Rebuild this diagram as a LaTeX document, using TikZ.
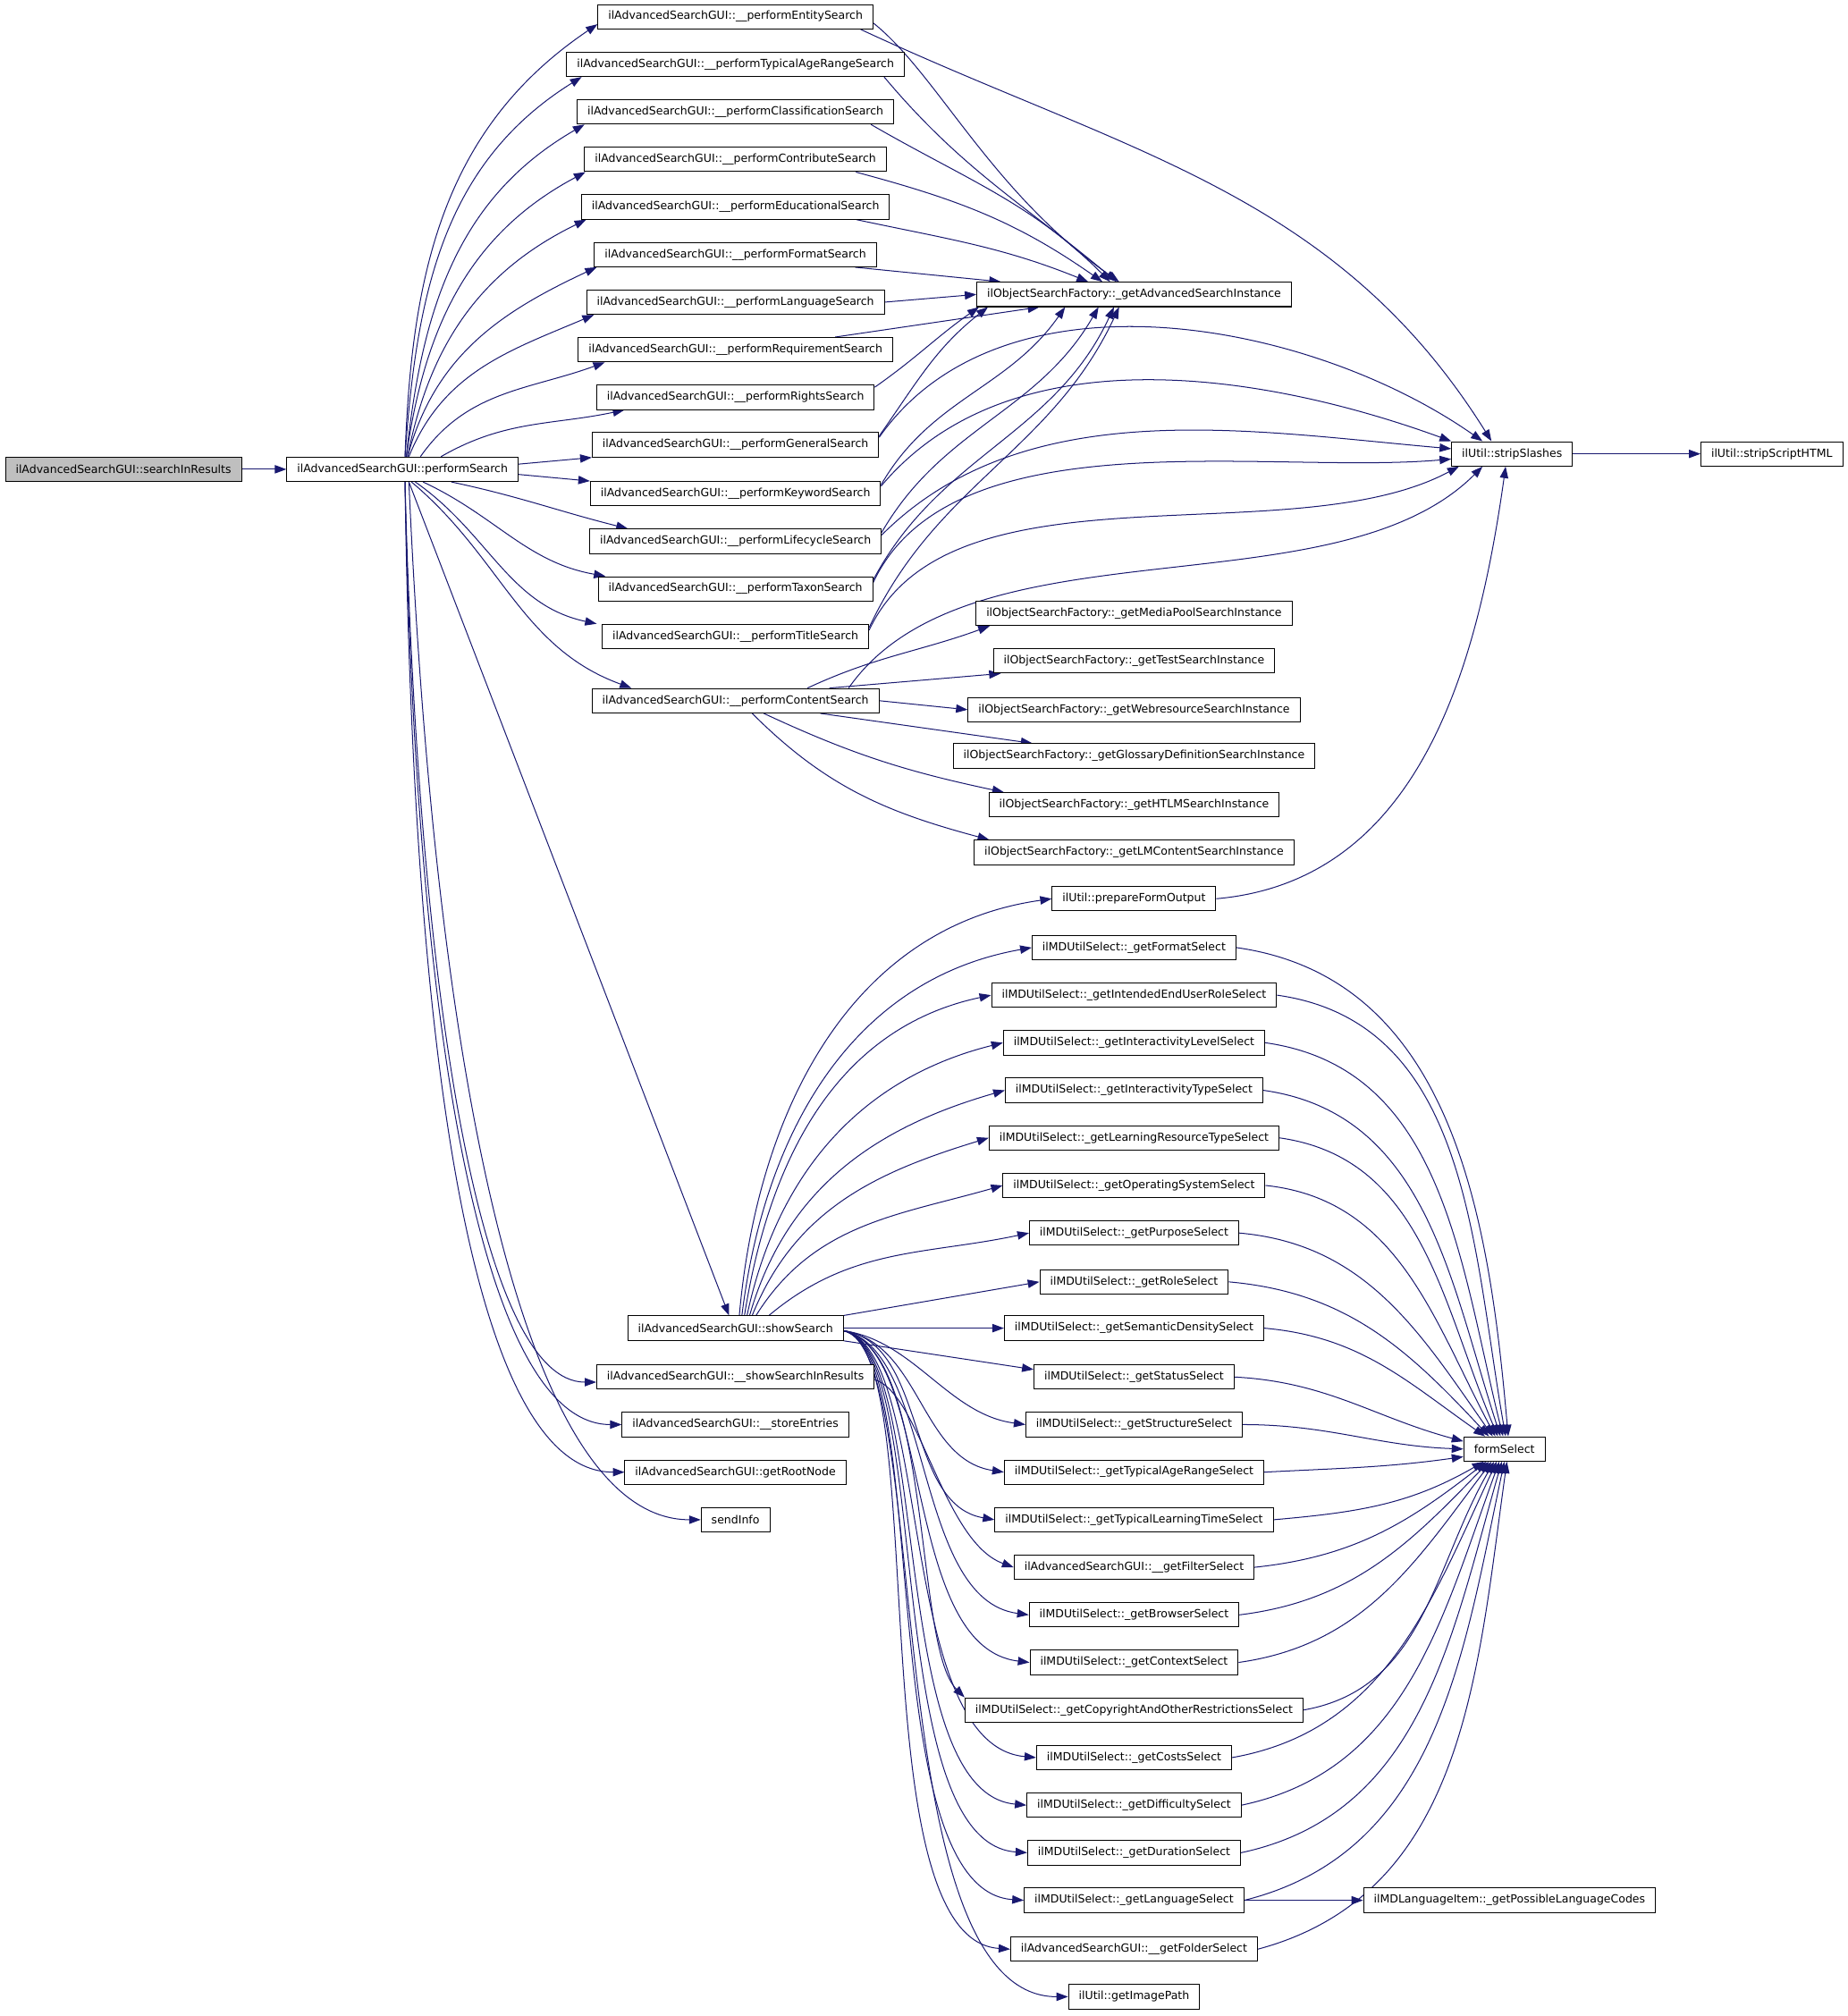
\documentclass[tikz,border=0pt]{standalone}
\usepackage{fontspec}
\setmainfont{DejaVu Sans}
\usetikzlibrary{arrows.meta,backgrounds}
\definecolor{edgeblue}{HTML}{191970}
\definecolor{rootgray}{HTML}{BFBFBF}

\begin{document}
\begin{tikzpicture}[
  x=1pt, y=1pt,
  font=\fontsize{8.7}{10}\selectfont,
  fn/.style={draw=black, line width=0.7pt, fill=white, inner xsep=8pt,
             inner ysep=0pt, minimum height=19pt},
  root/.style={fn, fill=rootgray},
  call/.style={draw=edgeblue, line width=0.7pt,
               -{Triangle[length=9pt,width=6.5pt]}},
]
\useasboundingbox (0,0) rectangle (1437,-1568);

% caller and entry point
\node[root] (sir) at (96,-365) {ilAdvancedSearchGUI::searchInResults};
\node[fn] (ps) at (313,-365) {ilAdvancedSearchGUI::performSearch};

% search helpers (middle column)
\node[fn] (pEnt) at (572,-13) {ilAdvancedSearchGUI::\_\_performEntitySearch};
\node[fn] (pAge) at (572,-50) {ilAdvancedSearchGUI::\_\_performTypicalAgeRangeSearch};
\node[fn] (pCls) at (572,-87) {ilAdvancedSearchGUI::\_\_performClassificationSearch};
\node[fn] (pCon) at (572,-124) {ilAdvancedSearchGUI::\_\_performContributeSearch};
\node[fn] (pEdu) at (572,-161) {ilAdvancedSearchGUI::\_\_performEducationalSearch};
\node[fn] (pFmt) at (572,-198) {ilAdvancedSearchGUI::\_\_performFormatSearch};
\node[fn] (pLng) at (572,-235) {ilAdvancedSearchGUI::\_\_performLanguageSearch};
\node[fn] (pReq) at (572,-272) {ilAdvancedSearchGUI::\_\_performRequirementSearch};
\node[fn] (pRgt) at (572,-309) {ilAdvancedSearchGUI::\_\_performRightsSearch};
\node[fn] (pGen) at (572,-346) {ilAdvancedSearchGUI::\_\_performGeneralSearch};
\node[fn] (pKey) at (572,-384) {ilAdvancedSearchGUI::\_\_performKeywordSearch};
\node[fn] (pLif) at (572,-421) {ilAdvancedSearchGUI::\_\_performLifecycleSearch};
\node[fn] (pTax) at (572,-458) {ilAdvancedSearchGUI::\_\_performTaxonSearch};
\node[fn] (pTit) at (572,-495) {ilAdvancedSearchGUI::\_\_performTitleSearch};
\node[fn] (pCnt) at (572,-545) {ilAdvancedSearchGUI::\_\_performContentSearch};
\node[fn] (shS) at (572,-1033) {ilAdvancedSearchGUI::showSearch};
\node[fn] (shR) at (572,-1071) {ilAdvancedSearchGUI::\_\_showSearchInResults};
\node[fn] (stE) at (572,-1108) {ilAdvancedSearchGUI::\_\_storeEntries};
\node[fn] (gRN) at (572,-1145) {ilAdvancedSearchGUI::getRootNode};
\node[fn] (snd) at (572,-1182) {sendInfo};

% factories and utilities (right column)
\node[fn] (fAdv) at (882,-229) {ilObjectSearchFactory::\_getAdvancedSearchInstance};
\node[fn] (uSS) at (1176,-353) {ilUtil::stripSlashes};
\node[fn] (uSH) at (1378,-353) {ilUtil::stripScriptHTML};
\node[fn] (fMP) at (882,-477) {ilObjectSearchFactory::\_getMediaPoolSearchInstance};
\node[fn] (fTst) at (882,-514) {ilObjectSearchFactory::\_getTestSearchInstance};
\node[fn] (fWeb) at (882,-552) {ilObjectSearchFactory::\_getWebresourceSearchInstance};
\node[fn] (fGls) at (882,-588) {ilObjectSearchFactory::\_getGlossaryDefinitionSearchInstance};
\node[fn] (fHtl) at (882,-626) {ilObjectSearchFactory::\_getHTLMSearchInstance};
\node[fn] (fLMC) at (882,-663) {ilObjectSearchFactory::\_getLMContentSearchInstance};
\node[fn] (uPFO) at (882,-699) {ilUtil::prepareFormOutput};

% select builders
\node[fn] (sFmt) at (882,-737) {ilMDUtilSelect::\_getFormatSelect};
\node[fn] (sIEU) at (882,-774) {ilMDUtilSelect::\_getIntendedEndUserRoleSelect};
\node[fn] (sIL) at (882,-811) {ilMDUtilSelect::\_getInteractivityLevelSelect};
\node[fn] (sIT) at (882,-848) {ilMDUtilSelect::\_getInteractivityTypeSelect};
\node[fn] (sLRT) at (882,-885) {ilMDUtilSelect::\_getLearningResourceTypeSelect};
\node[fn] (sOS) at (882,-922) {ilMDUtilSelect::\_getOperatingSystemSelect};
\node[fn] (sPur) at (882,-959) {ilMDUtilSelect::\_getPurposeSelect};
\node[fn] (sRol) at (882,-997) {ilMDUtilSelect::\_getRoleSelect};
\node[fn] (sSem) at (882,-1033) {ilMDUtilSelect::\_getSemanticDensitySelect};
\node[fn] (sSta) at (882,-1071) {ilMDUtilSelect::\_getStatusSelect};
\node[fn] (sStr) at (882,-1108) {ilMDUtilSelect::\_getStructureSelect};
\node[fn] (sTAR) at (882,-1145) {ilMDUtilSelect::\_getTypicalAgeRangeSelect};
\node[fn] (sTLT) at (882,-1182) {ilMDUtilSelect::\_getTypicalLearningTimeSelect};
\node[fn] (gFil) at (882,-1219) {ilAdvancedSearchGUI::\_\_getFilterSelect};
\node[fn] (sBro) at (882,-1256) {ilMDUtilSelect::\_getBrowserSelect};
\node[fn] (sCtx) at (882,-1293) {ilMDUtilSelect::\_getContextSelect};
\node[fn] (sCpy) at (882,-1330) {ilMDUtilSelect::\_getCopyrightAndOtherRestrictionsSelect};
\node[fn] (sCst) at (882,-1367) {ilMDUtilSelect::\_getCostsSelect};
\node[fn] (sDif) at (882,-1404) {ilMDUtilSelect::\_getDifficultySelect};
\node[fn] (sDur) at (882,-1441) {ilMDUtilSelect::\_getDurationSelect};
\node[fn] (sLng) at (882,-1478) {ilMDUtilSelect::\_getLanguageSelect};
\node[fn] (gFld) at (882,-1516) {ilAdvancedSearchGUI::\_\_getFolderSelect};
\node[fn] (uIMG) at (882,-1553) {ilUtil::getImagePath};
\node[fn] (fSel) at (1170,-1127) {formSelect};
\node[fn] (lPLC) at (1174,-1478) {ilMDLanguageItem::\_getPossibleLanguageCodes};

\begin{scope}[on background layer]
% entry
\draw[call] (sir) -- (ps);

% performSearch -> helpers
\draw[call] ([xshift=2pt]ps.north) to[out=88,in=214] ([yshift=4pt]pEnt.south west);
\draw[call] ([xshift=2pt]ps.north) to[out=86,in=212] ([xshift=12pt]pAge.south west);
\draw[call] ([xshift=3pt]ps.north) to[out=84,in=210] ([xshift=6pt]pCls.south west);
\draw[call] ([xshift=3pt]ps.north) to[out=82,in=208] ([xshift=1pt]pCon.south west);
\draw[call] ([xshift=4pt]ps.north) to[out=79,in=206] ([xshift=4pt]pEdu.south west);
\draw[call] ([xshift=4pt]ps.north) to[out=75,in=205] ([xshift=2pt]pFmt.south west);
\draw[call] ([xshift=5pt]ps.north) to[out=68,in=203] ([xshift=6pt]pLng.south west);
\draw[call] ([xshift=14pt]ps.north) to[out=55,in=200] ([xshift=21pt]pReq.south west);
\draw[call] ([xshift=30pt]ps.north) to[out=30,in=192] ([xshift=22pt]pRgt.south west);
\draw[call] ([yshift=4pt]ps.east) -- (pGen.south west);
\draw[call] ([yshift=-4pt]ps.east) -- (pKey.north west);
\draw[call] ([xshift=38pt]ps.south) to[out=-12,in=166] ([xshift=30pt]pLif.north west);
\draw[call] ([xshift=16pt]ps.south) to[out=-25,in=170] ([xshift=6pt]pTax.north west);
\draw[call] ([xshift=10pt]ps.south) to[out=-35,in=168] ([xshift=-4pt]pTit.north west);
\draw[call] ([xshift=7pt]ps.south) to[out=-40,in=160] ([xshift=31pt]pCnt.north west);
\draw[call] ([xshift=5pt]ps.south) -- ([xshift=-5pt]shS.north);
\draw[call] ([xshift=2pt]ps.south) .. controls +(10,-400) and +(-90,0) .. ([yshift=-4pt]shR.west);
\draw[call] ([xshift=2pt]ps.south) .. controls +(8,-420) and +(-110,0) .. (stE.west);
\draw[call] ([xshift=2pt]ps.south) .. controls +(6,-440) and +(-120,0) .. (gRN.west);
\draw[call] ([xshift=5pt]ps.south) .. controls +(20,-450) and +(-140,0) .. (snd.west);

% helpers -> advanced search instance
\draw[call] ([yshift=-5pt]pEnt.east) .. controls +(50,-40) and +(-100,70) .. ([xshift=111pt]fAdv.north west);
\draw[call] ([xshift=-16pt]pAge.south east) to[out=-50,in=140] ([xshift=109pt]fAdv.north west);
\draw[call] ([xshift=-18pt]pCls.south east) to[out=-30,in=135] ([xshift=104pt]fAdv.north west);
\draw[call] ([xshift=-24pt]pCon.south east) to[out=-15,in=145] ([xshift=98pt]fAdv.north west);
\draw[call] ([xshift=-26pt]pEdu.south east) to[out=-12,in=158] ([xshift=87pt]fAdv.north west);
\draw[call] ([xshift=-17pt]pFmt.south east) -- ([xshift=19pt]fAdv.north west);
\draw[call] (pLng.east) -- (fAdv.west);
\draw[call] ([xshift=-45pt]pReq.north east) -- ([xshift=49pt]fAdv.south west);
\draw[call] ([yshift=-2pt]pRgt.north east) to[out=35,in=215] ([xshift=2pt]fAdv.south west);
\draw[call] ([yshift=-3pt]pGen.north east) to[out=55,in=218] ([xshift=9pt]fAdv.south west);
\draw[call] ([yshift=-3pt]pKey.north east) to[out=60,in=235] ([xshift=69pt]fAdv.south west);
\draw[call] ([yshift=-3pt]pLif.north east) to[out=60,in=240] ([xshift=95pt]fAdv.south west);
\draw[call] ([yshift=-3pt]pTax.north east) to[out=62,in=245] ([xshift=107pt]fAdv.south west);
\draw[call] ([yshift=-3pt]pTit.north east) to[out=65,in=245] ([xshift=111pt]fAdv.south west);

% helpers -> stripSlashes
\draw[call] ([xshift=-10pt]pEnt.south east) to[out=-25,in=122] ([xshift=-16pt]uSS.north);
\draw[call] ([yshift=-4pt]pGen.north east) to[out=55,in=145,looseness=0.9] ([xshift=-23pt]uSS.north);
\draw[call] ([yshift=-4pt]pKey.north east) to[out=50,in=160,looseness=0.9] (uSS.north west);
\draw[call] ([yshift=-5pt]pLif.north east) to[out=45,in=175,looseness=0.9] ([yshift=4pt]uSS.west);
\draw[call] ([yshift=-5pt]pTax.north east) to[out=65,in=185,looseness=0.8] ([yshift=-4pt]uSS.west);
\draw[call] ([yshift=-5pt]pTit.north east) to[out=65,in=208,looseness=0.8] ([xshift=6pt]uSS.south west);
\draw[call] ([xshift=88pt]pCnt.north) to[out=55,in=225,looseness=0.8] ([xshift=-23pt]uSS.south);
\draw[call] (uPFO.east) to[out=5,in=262] ([xshift=-5pt]uSS.south);
\draw[call] (uSS) -- (uSH);

% content search -> instances
\draw[call] ([xshift=56pt]pCnt.north) to[out=25,in=200] ([xshift=11pt]fMP.south west);
\draw[call] ([xshift=73pt]pCnt.north) -- ([xshift=6pt]fTst.south west);
\draw[call] (pCnt.east) -- (fWeb.west);
\draw[call] ([xshift=66pt]pCnt.south) -- ([xshift=62pt]fGls.north west);
\draw[call] ([xshift=22pt]pCnt.south) to[out=-25,in=168] ([xshift=12pt]fHtl.north west);
\draw[call] ([xshift=13pt]pCnt.south) to[out=-45,in=165] ([xshift=12pt]fLMC.north west);

% showSearch -> upper fan
\draw[call] ([xshift=3pt]shS.north) to[out=85,in=188] (uPFO.west);
\draw[call] ([xshift=5pt]shS.north) to[out=83,in=190] (sFmt.west);
\draw[call] ([xshift=7pt]shS.north) to[out=81,in=192] (sIEU.west);
\draw[call] ([xshift=9pt]shS.north) to[out=78,in=194] (sIL.west);
\draw[call] ([xshift=11pt]shS.north) to[out=74,in=196] (sIT.west);
\draw[call] ([xshift=13pt]shS.north) to[out=68,in=197] (sLRT.west);
\draw[call] ([xshift=16pt]shS.north) to[out=58,in=196] (sOS.west);
\draw[call] ([xshift=26pt]shS.north) to[out=40,in=192] (sPur.west);
\draw[call] (shS.north east) -- (sRol.west);

% showSearch -> lower fan
\draw[call] (shS.east) -- (sSem.west);
\draw[call] (shS.south east) -- ([yshift=-4pt]sSta.north west);
\draw[call] ([yshift=-2pt]shS.east) .. controls +(55,-8) and +(-60,8) .. (sStr.west);
\draw[call] ([yshift=-2pt]shS.east) .. controls +(60,-10) and +(-65,10) .. (sTAR.west);
\draw[call] ([yshift=-2pt]shS.east) .. controls +(65,-10) and +(-70,12) .. (sTLT.west);
\draw[call] ([yshift=-2pt]shS.east) .. controls +(70,-15) and +(-90,12) .. (sBro.west);
\draw[call] ([yshift=-2pt]shS.east) .. controls +(70,-15) and +(-100,12) .. (sCtx.west);
\draw[call] ([yshift=-2pt]shS.east) .. controls +(70,-15) and +(-40,40) .. (sCpy.north west);
\draw[call] ([yshift=-2pt]shS.east) .. controls +(70,-15) and +(-110,10) .. (sCst.west);
\draw[call] ([yshift=-2pt]shS.east) .. controls +(70,-15) and +(-110,10) .. (sDif.west);
\draw[call] ([yshift=-2pt]shS.east) .. controls +(70,-15) and +(-115,8) .. (sDur.west);
\draw[call] ([yshift=-2pt]shS.east) .. controls +(70,-15) and +(-120,8) .. (sLng.west);
\draw[call] ([yshift=-2pt]shS.east) .. controls +(70,-15) and +(-120,8) .. (gFld.west);
\draw[call] ([yshift=-2pt]shS.east) .. controls +(70,-15) and +(-150,0) .. (uIMG.west);
\draw[call] ([yshift=-2pt]shR.east) .. controls +(35,-10) and +(-55,20) .. (gFil.west);

% selects -> formSelect
\draw[call] (sFmt.east) to[out=-8,in=95] ([xshift=3pt]fSel.north);
\draw[call] (sIEU.east) to[out=-8,in=100] ([xshift=1pt]fSel.north);
\draw[call] (sIL.east) to[out=-8,in=104] ([xshift=-1pt]fSel.north);
\draw[call] (sIT.east) to[out=-8,in=108] ([xshift=-3pt]fSel.north);
\draw[call] (sLRT.east) to[out=-8,in=113] ([xshift=-5pt]fSel.north);
\draw[call] (sOS.east) to[out=-6,in=118] ([xshift=-7pt]fSel.north);
\draw[call] (sPur.east) to[out=-5,in=125] ([xshift=-9pt]fSel.north);
\draw[call] (sRol.east) to[out=-5,in=133] ([xshift=-12pt]fSel.north);
\draw[call] (sSem.east) to[out=-5,in=145] ([xshift=-15pt]fSel.north);
\draw[call] (sSta.east) to[out=-3,in=165] ([yshift=6pt]fSel.west);
\draw[call] (sStr.east) to[out=0,in=178] (fSel.west);
\draw[call] (sTAR.east) to[out=3,in=188] ([yshift=-6pt]fSel.west);
\draw[call] (sTLT.east) to[out=5,in=210] ([xshift=-16pt]fSel.south);
\draw[call] (gFil.east) to[out=6,in=218] ([xshift=-14pt]fSel.south);
\draw[call] (sBro.east) to[out=7,in=226] ([xshift=-12pt]fSel.south);
\draw[call] (sCtx.east) to[out=8,in=233] ([xshift=-10pt]fSel.south);
\draw[call] (sCpy.east) to[out=10,in=240] ([xshift=-8pt]fSel.south);
\draw[call] (sCst.east) to[out=10,in=245] ([xshift=-6pt]fSel.south);
\draw[call] (sDif.east) to[out=12,in=250] ([xshift=-4pt]fSel.south);
\draw[call] (sDur.east) to[out=12,in=254] ([xshift=-2pt]fSel.south);
\draw[call] (sLng.east) to[out=14,in=258] (fSel.south);
\draw[call] (gFld.east) to[out=15,in=262] ([xshift=2pt]fSel.south);
\draw[call] (sLng.east) -- (lPLC.west);
\end{scope}
\end{tikzpicture}
\end{document}
